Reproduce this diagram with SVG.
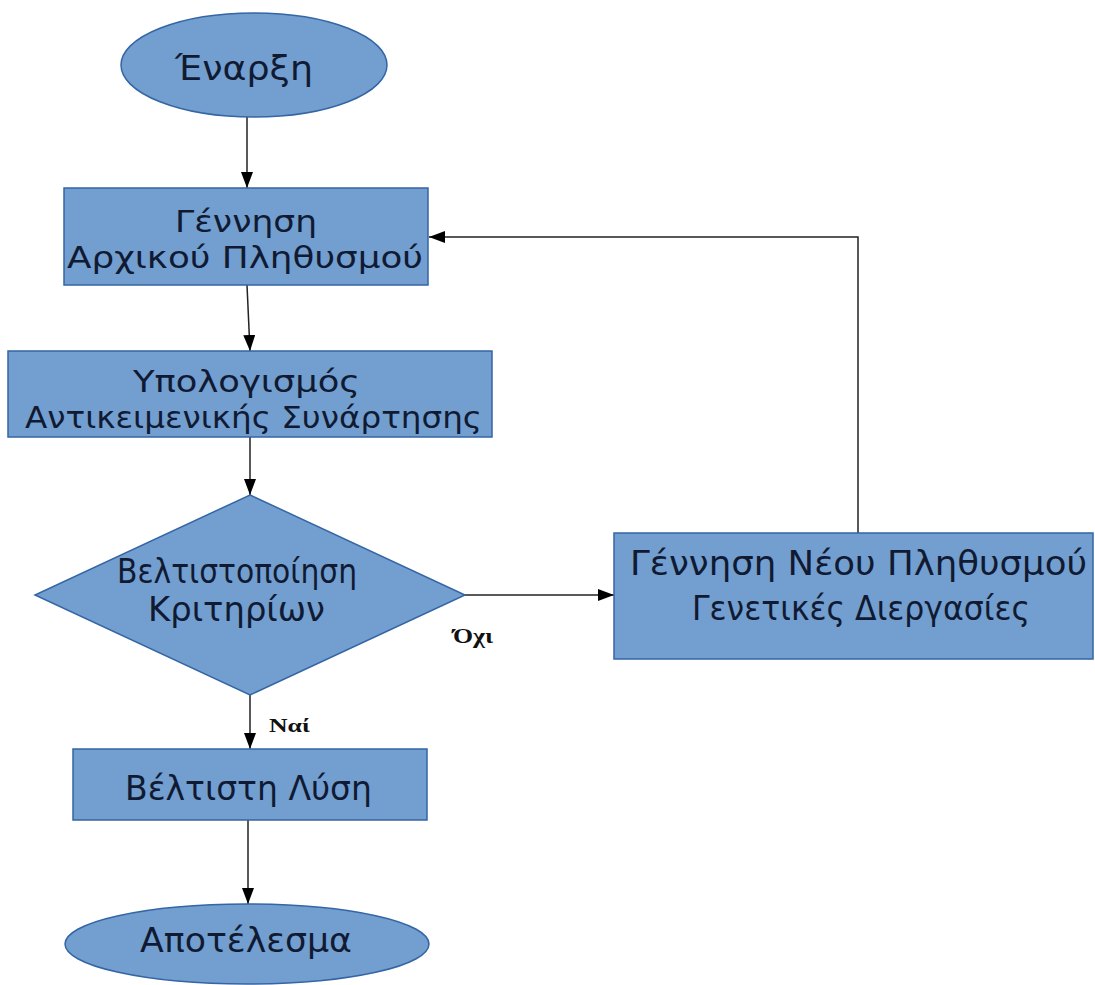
<svg xmlns="http://www.w3.org/2000/svg" width="1095" height="985" viewBox="0 0 1095 985">
<style>
.shape{fill:#729fcf;stroke:#3465a4;stroke-width:1.5}
.lbl{font-family:"DejaVu Sans","Noto Sans",sans-serif;font-size:33px;fill:#111a33}
.two{font-size:31px}
.edge{font-family:"Liberation Serif","DejaVu Serif",serif;font-weight:bold;fill:#111}
.conn{fill:none;stroke:#222;stroke-width:1.5}
</style>
<defs>
<marker id="arr" markerWidth="16" markerHeight="12" refX="16" refY="6" orient="auto" markerUnits="userSpaceOnUse">
<path d="M0,0 L16,6 L0,12 Z" fill="#000"/>
</marker>
</defs>
<rect width="1095" height="985" fill="#fff"/>
<g id="connectors">
<line class="conn" x1="247" y1="117" x2="247" y2="188" marker-end="url(#arr)"/>
<line class="conn" x1="247" y1="285" x2="250" y2="351" marker-end="url(#arr)"/>
<line class="conn" x1="250" y1="437" x2="250" y2="495" marker-end="url(#arr)"/>
<line class="conn" x1="465" y1="595" x2="614" y2="595" marker-end="url(#arr)"/>
<line class="conn" x1="250" y1="695" x2="250" y2="749" marker-end="url(#arr)"/>
<line class="conn" x1="248" y1="820" x2="248" y2="904" marker-end="url(#arr)"/>
<polyline class="conn" points="858,533 858,237 429,237" marker-end="url(#arr)"/>
<text class="edge" x="453" y="643" font-size="20" textLength="40" lengthAdjust="spacingAndGlyphs">Όχι</text>
<text class="edge" x="269" y="732" font-size="19" textLength="41" lengthAdjust="spacingAndGlyphs">Ναί</text>
</g>
<g id="start">
<ellipse class="shape" cx="254" cy="65" rx="133" ry="52"/>
<text class="lbl" x="175" y="80" textLength="138" lengthAdjust="spacingAndGlyphs">Έναρξη</text>
</g>
<g id="init">
<rect class="shape" x="64" y="188" width="364" height="97"/>
<text class="lbl two" x="175" y="232" textLength="142" lengthAdjust="spacingAndGlyphs">Γέννηση</text>
<text class="lbl two" x="67" y="268" textLength="356" lengthAdjust="spacingAndGlyphs">Αρχικού Πληθυσμού</text>
</g>
<g id="eval">
<rect class="shape" x="8" y="351" width="484" height="86"/>
<text class="lbl two" x="133" y="392" textLength="227" lengthAdjust="spacingAndGlyphs">Υπολογισμός</text>
<text class="lbl two" x="25" y="428" textLength="457" lengthAdjust="spacingAndGlyphs">Αντικειμενικής Συνάρτησης</text>
</g>
<g id="decision">
<polygon class="shape" points="250,495 465,595 250,695 35,595"/>
<text class="lbl" x="117" y="583" textLength="240" lengthAdjust="spacingAndGlyphs">Βελτιστοποίηση</text>
<text class="lbl" x="148" y="621" textLength="177" lengthAdjust="spacingAndGlyphs">Κριτηρίων</text>
</g>
<g id="newpop">
<rect class="shape" x="614" y="533" width="479" height="126"/>
<text class="lbl" x="630" y="575" textLength="457" lengthAdjust="spacingAndGlyphs">Γέννηση Νέου Πληθυσμού</text>
<text class="lbl" x="692" y="620" textLength="338" lengthAdjust="spacingAndGlyphs">Γενετικές Διεργασίες</text>
</g>
<g id="best">
<rect class="shape" x="73" y="749" width="354" height="71"/>
<text class="lbl" x="125" y="800" textLength="247" lengthAdjust="spacingAndGlyphs">Βέλτιστη Λύση</text>
</g>
<g id="result">
<ellipse class="shape" cx="247" cy="944" rx="182" ry="40"/>
<text class="lbl" x="140" y="952" textLength="212" lengthAdjust="spacingAndGlyphs">Αποτέλεσμα</text>
</g>
</svg>
